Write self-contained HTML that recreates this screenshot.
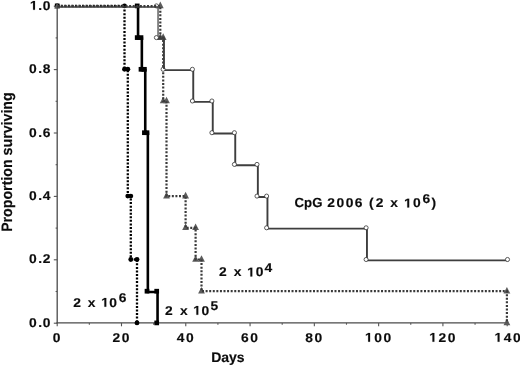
<!DOCTYPE html>
<html><head><meta charset="utf-8"><title>Survival</title>
<style>
html,body{margin:0;padding:0;background:#fff;}
body{width:520px;height:365px;overflow:hidden;}
svg{display:block;will-change:transform;}
text{font-family:"Liberation Sans",sans-serif;font-weight:bold;fill:#0c0c0c;stroke:#0c0c0c;stroke-width:0.15px;text-rendering:geometricPrecision;font-size:12.7px;}
.one{fill:#0c0c0c;stroke:#0c0c0c;stroke-width:0.15px;}
</style></head><body>
<svg width="520" height="365" viewBox="0 0 520 365">
<rect width="520" height="365" fill="#fff"/>

<path d="M57.2 4.9 V323.5" stroke="#505050" stroke-width="1.35" fill="none"/>
<path d="M56.4 322.9 H507.5" stroke="#4a4a4a" stroke-width="1.2" fill="none"/>
<g stroke="#555" stroke-width="1.1" fill="none">
<path d="M53.8 323.2 H57.2"/>
<path d="M55.6 291.5 H57.2"/>
<path d="M53.8 259.8 H57.2"/>
<path d="M55.6 228.1 H57.2"/>
<path d="M53.8 196.4 H57.2"/>
<path d="M55.6 164.7 H57.2"/>
<path d="M53.8 133 H57.2"/>
<path d="M55.6 101.3 H57.2"/>
<path d="M53.8 69.6 H57.2"/>
<path d="M55.6 37.9 H57.2"/>
<path d="M53.8 6.2 H57.2"/>
<path d="M57.2 322.9 V326.3"/>
<path d="M89.34 322.9 V324.7"/>
<path d="M121.49 322.9 V326.3"/>
<path d="M153.63 322.9 V324.7"/>
<path d="M185.77 322.9 V326.3"/>
<path d="M217.91 322.9 V324.7"/>
<path d="M250.06 322.9 V326.3"/>
<path d="M282.2 322.9 V324.7"/>
<path d="M314.34 322.9 V326.3"/>
<path d="M346.49 322.9 V324.7"/>
<path d="M378.63 322.9 V326.3"/>
<path d="M410.77 322.9 V324.7"/>
<path d="M442.91 322.9 V326.3"/>
<path d="M475.06 322.9 V324.7"/>
<path d="M507.2 322.9 V326.3"/>
</g>
<text transform="translate(29.01 326.8) scale(1.09 1)">0</text><text transform="translate(38.23 326.8) scale(1.09 1)">.</text><text transform="translate(42.71 326.8) scale(1.09 1)">0</text>
<text transform="translate(29.01 263.4) scale(1.09 1)">0</text><text transform="translate(38.23 263.4) scale(1.09 1)">.</text><text transform="translate(42.74 263.4) scale(1.09 1)">2</text>
<text transform="translate(29.01 200) scale(1.09 1)">0</text><text transform="translate(38.23 200) scale(1.09 1)">.</text><text transform="translate(42.63 200) scale(1.09 1)">4</text>
<text transform="translate(29.01 136.6) scale(1.09 1)">0</text><text transform="translate(38.23 136.6) scale(1.09 1)">.</text><text transform="translate(42.7 136.6) scale(1.09 1)">6</text>
<text transform="translate(29.01 73.2) scale(1.09 1)">0</text><text transform="translate(38.23 73.2) scale(1.09 1)">.</text><text transform="translate(42.69 73.2) scale(1.09 1)">8</text>
<path class="one" d="M33.08 9.8 L33.08 2.54 L30.8 3.85 L30.8 2.48 L33.18 1.06 L34.98 1.06 L34.98 9.8Z"/><text transform="translate(38.23 9.8) scale(1.09 1)">.</text><text transform="translate(42.71 9.8) scale(1.09 1)">0</text>
<text transform="translate(52.75 341.7) scale(1.09 1)">0</text>
<text transform="translate(112.41 341.7) scale(1.09 1)">2</text>
<text transform="translate(121.66 341.7) scale(1.09 1)">0</text>
<text transform="translate(176.7 341.7) scale(1.09 1)">4</text>
<text transform="translate(185.95 341.7) scale(1.09 1)">0</text>
<text transform="translate(240.98 341.7) scale(1.09 1)">6</text>
<text transform="translate(250.23 341.7) scale(1.09 1)">0</text>
<text transform="translate(305.27 341.7) scale(1.09 1)">8</text>
<text transform="translate(314.52 341.7) scale(1.09 1)">0</text>
<path class="one" d="M368.16 341.7 L368.16 334.44 L365.88 335.75 L365.88 334.38 L368.26 332.96 L370.06 332.96 L370.06 341.7Z"/>
<text transform="translate(374.18 341.7) scale(1.09 1)">0</text>
<text transform="translate(383.43 341.7) scale(1.09 1)">0</text>
<path class="one" d="M432.45 341.7 L432.45 334.44 L430.16 335.75 L430.16 334.38 L432.55 332.96 L434.35 332.96 L434.35 341.7Z"/>
<text transform="translate(438.46 341.7) scale(1.09 1)">2</text>
<text transform="translate(447.71 341.7) scale(1.09 1)">0</text>
<path class="one" d="M497.63 341.7 L497.63 334.44 L495.35 335.75 L495.35 334.38 L497.73 332.96 L499.53 332.96 L499.53 341.7Z"/>
<text transform="translate(503.65 341.7) scale(1.09 1)">4</text>
<text transform="translate(512.9 341.7) scale(1.09 1)">0</text>
<text x="227.9" y="361.7" text-anchor="middle" style="font-size:14px">Days</text>
<text transform="translate(12 162.1) rotate(-90) scale(0.94 1)" text-anchor="middle" style="font-size:15.1px">Proportion surviving</text>
<path d="M57.2 5.9 L124.5 5.9 L124.5 69.3 L127.8 69.3 L127.8 196.1 L130.8 196.1 L130.8 259.5 L137 259.5 L137 322.9" fill="none" stroke="#000" stroke-width="2.3" stroke-dasharray="2 1.55"/>
<circle cx="57.2" cy="5.9" r="2.45" fill="#000"/>
<circle cx="124.5" cy="5.9" r="2.45" fill="#000"/>
<circle cx="124.5" cy="69.3" r="2.45" fill="#000"/>
<circle cx="127.8" cy="69.3" r="2.45" fill="#000"/>
<circle cx="127.8" cy="196.1" r="2.45" fill="#000"/>
<circle cx="130.8" cy="196.1" r="2.45" fill="#000"/>
<circle cx="130.8" cy="259.5" r="2.45" fill="#000"/>
<circle cx="137" cy="259.5" r="2.45" fill="#000"/>
<circle cx="137" cy="322.9" r="2.45" fill="#000"/>
<path d="M138.05 6 L138.05 38.45 L141.85 38.45 L141.85 70.15 L145.25 70.15 L145.25 133.55 L147.85 133.55 L147.85 292.05 L157.55 292.05 L157.55 323.75" fill="none" stroke="#000" stroke-width="2.6"/>
<rect x="54.85" y="3.55" width="4.7" height="4.7" fill="#000"/>
<rect x="134.85" y="3.55" width="4.7" height="4.7" fill="#000"/>
<rect x="134.85" y="35.25" width="4.7" height="4.7" fill="#000"/>
<rect x="138.65" y="35.25" width="4.7" height="4.7" fill="#000"/>
<rect x="138.65" y="66.95" width="4.7" height="4.7" fill="#000"/>
<rect x="142.05" y="66.95" width="4.7" height="4.7" fill="#000"/>
<rect x="142.05" y="130.35" width="4.7" height="4.7" fill="#000"/>
<rect x="144.65" y="130.35" width="4.7" height="4.7" fill="#000"/>
<rect x="144.65" y="288.85" width="4.7" height="4.7" fill="#000"/>
<rect x="154.35" y="288.85" width="4.7" height="4.7" fill="#000"/>
<rect x="154.35" y="320.55" width="4.7" height="4.7" fill="#000"/>
<circle cx="156.4" cy="5.9" r="2.05" fill="#fff" stroke="#333" stroke-width="0.8"/>
<path d="M57.1 2.9 L60 8.5 L54.2 8.5 Z" fill="#5c5c5c"/>
<path d="M160.3 1.6 L163.7 8.2 L156.9 8.2 Z" fill="#5c5c5c"/>
<path d="M160.3 33.3 L163.7 39.9 L156.9 39.9 Z" fill="#5c5c5c"/>
<path d="M163.2 33.3 L166.6 39.9 L159.8 39.9 Z" fill="#5c5c5c"/>
<path d="M163.2 96.7 L166.6 103.3 L159.8 103.3 Z" fill="#5c5c5c"/>
<path d="M166.5 96.7 L169.9 103.3 L163.1 103.3 Z" fill="#5c5c5c"/>
<path d="M166.5 191.8 L169.9 198.4 L163.1 198.4 Z" fill="#5c5c5c"/>
<path d="M185.6 191.8 L189 198.4 L182.2 198.4 Z" fill="#5c5c5c"/>
<path d="M185.6 223.5 L189 230.1 L182.2 230.1 Z" fill="#5c5c5c"/>
<path d="M195.6 223.5 L199 230.1 L192.2 230.1 Z" fill="#5c5c5c"/>
<path d="M195.6 255.2 L199 261.8 L192.2 261.8 Z" fill="#5c5c5c"/>
<path d="M201.5 255.2 L204.9 261.8 L198.1 261.8 Z" fill="#5c5c5c"/>
<path d="M201.5 286.9 L204.9 293.5 L198.1 293.5 Z" fill="#5c5c5c"/>
<path d="M506.9 286.9 L510.3 293.5 L503.5 293.5 Z" fill="#5c5c5c"/>
<path d="M506.9 318.6 L510.3 325.2 L503.5 325.2 Z" fill="#5c5c5c"/>
<path d="M57.2 6.1 L160.3 6.1 L160.3 37.6 L163.2 37.6 L163.2 101 L166.5 101 L166.5 196.1 L185.6 196.1 L185.6 227.8 L195.6 227.8 L195.6 259.5 L201.5 259.5 L201.5 291.2 L506.9 291.2 L506.9 322.9" fill="none" stroke="#3a3a3a" stroke-width="2.2" stroke-dasharray="2 1.58" stroke-dashoffset="3.25"/>
<path d="M57.2 6.9 L157.95 6.9" fill="none" stroke="#3a3a3a" stroke-width="1.5" stroke-linejoin="miter"/>
<path d="M158.05 5.95 V39.4" fill="none" stroke="#555" stroke-width="1.4"/>
<path d="M157.25 38.45 L163.95 38.45 L163.95 70.15 L193.25 70.15 L193.25 101.85 L212.75 101.85 L212.75 133.55 L235.25 133.55 L235.25 165.25 L257.85 165.25 L257.85 196.95 L267.45 196.95 L267.45 228.65 L366.95 228.65 L366.95 260.35 L508.35 260.35" fill="none" stroke="#3e3e3e" stroke-width="1.9" stroke-linejoin="miter"/>
<rect x="156.4" y="4.9" width="1.5" height="1.2" fill="#eee"/>
<circle cx="163.1" cy="69.3" r="2.05" fill="#fff" stroke="#333" stroke-width="0.8"/>
<circle cx="192.4" cy="69.3" r="2.05" fill="#fff" stroke="#333" stroke-width="0.8"/>
<circle cx="192.4" cy="101" r="2.05" fill="#fff" stroke="#333" stroke-width="0.8"/>
<circle cx="211.9" cy="101" r="2.05" fill="#fff" stroke="#333" stroke-width="0.8"/>
<circle cx="211.9" cy="132.7" r="2.05" fill="#fff" stroke="#333" stroke-width="0.8"/>
<circle cx="234.4" cy="132.7" r="2.05" fill="#fff" stroke="#333" stroke-width="0.8"/>
<circle cx="234.4" cy="164.4" r="2.05" fill="#fff" stroke="#333" stroke-width="0.8"/>
<circle cx="257" cy="164.4" r="2.05" fill="#fff" stroke="#333" stroke-width="0.8"/>
<circle cx="257" cy="196.1" r="2.05" fill="#fff" stroke="#333" stroke-width="0.8"/>
<circle cx="266.6" cy="196.1" r="2.05" fill="#fff" stroke="#333" stroke-width="0.8"/>
<circle cx="266.6" cy="227.8" r="2.05" fill="#fff" stroke="#333" stroke-width="0.8"/>
<circle cx="366.1" cy="227.8" r="2.05" fill="#fff" stroke="#333" stroke-width="0.8"/>
<circle cx="366.1" cy="259.5" r="2.05" fill="#fff" stroke="#333" stroke-width="0.8"/>
<circle cx="507.5" cy="259.5" r="2.05" fill="#fff" stroke="#333" stroke-width="0.8"/>
<circle cx="156.4" cy="37.6" r="2.05" fill="#fff" stroke="#333" stroke-width="0.8"/>
<path d="M164.05 66.3 V69.1" stroke="#3e3e3e" stroke-width="1.9" fill="none"/>
<text transform="translate(73.34 306.7) scale(1.09 1)">2</text><text transform="translate(87.75 306.7) scale(1.09 1)">x</text><path class="one" d="M104.38 306.7 L104.38 299.44 L102.1 300.75 L102.1 299.38 L104.48 297.96 L106.28 297.96 L106.28 306.7Z"/><text transform="translate(109.26 306.7) scale(1.09 1)">0</text><text transform="translate(118.85 302.1) scale(1.09 1)">6</text>
<text transform="translate(165.04 314.8) scale(1.09 1)">2</text><text transform="translate(180 314.8) scale(1.09 1)">x</text><path class="one" d="M196.38 314.8 L196.38 307.54 L194.1 308.85 L194.1 307.48 L196.48 306.06 L198.28 306.06 L198.28 314.8Z"/><text transform="translate(201.51 314.8) scale(1.09 1)">0</text><text transform="translate(210.38 309.6) scale(1.09 1)">5</text>
<text transform="translate(218.89 276.4) scale(1.09 1)">2</text><text transform="translate(233.85 276.4) scale(1.09 1)">x</text><path class="one" d="M250.38 276.4 L250.38 269.14 L248.1 270.45 L248.1 269.08 L250.48 267.66 L252.28 267.66 L252.28 276.4Z"/><text transform="translate(255.71 276.4) scale(1.09 1)">0</text><text transform="translate(264.38 271.7) scale(1.09 1)">4</text>
<text x="294.6" y="207.4" style="font-size:13.2px">CpG</text>
<text transform="translate(327.29 207.4) scale(1.09 1)">2</text>
<text transform="translate(336.46 207.4) scale(1.09 1)">0</text>
<text transform="translate(345.66 207.4) scale(1.09 1)">0</text>
<text transform="translate(354.85 207.4) scale(1.09 1)">6</text>
<text transform="translate(369.11 207.4) scale(1.09 1)">(</text>
<text transform="translate(375.64 207.4) scale(1.09 1)">2</text><text transform="translate(390.25 207.4) scale(1.09 1)">x</text><path class="one" d="M407.28 207.4 L407.28 200.14 L405 201.45 L405 200.08 L407.38 198.66 L409.18 198.66 L409.18 207.4Z"/><text transform="translate(413.06 207.4) scale(1.09 1)">0</text><text transform="translate(422.55 203.1) scale(1.09 1)">6</text>
<text transform="translate(431.48 207.4) scale(1.09 1)">)</text>
</svg></body></html>
